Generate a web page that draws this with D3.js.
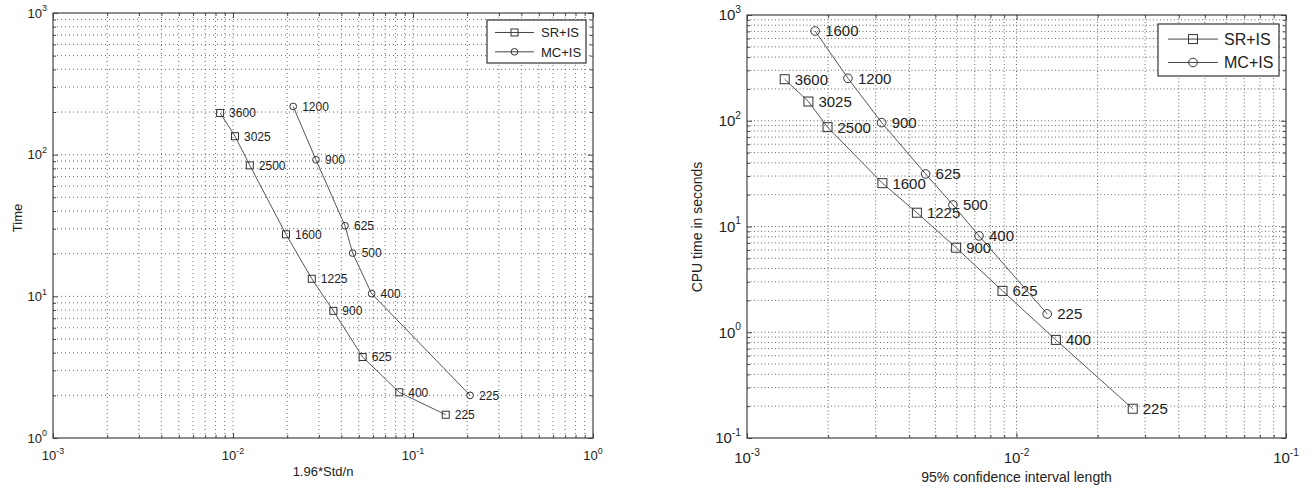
<!DOCTYPE html>
<html>
<head>
<meta charset="utf-8">
<script src="https://cdn.jsdelivr.net/npm/d3@7"></script>
<style>
body { margin: 0; background: #fff; }
text { font-family: 'Liberation Sans', Arial, sans-serif; fill: #222; }
</style>
</head>
<body>
<svg id="chart" width="1312" height="495"></svg>
<script>

// left panel data (1.96*Std/n vs Time)
var leftSrLabels = ['3600', '3025', '2500', '1600', '1225', '900', '625', '400', '225'];
var leftSrStd = [0.00848, 0.01026, 0.0124, 0.0197, 0.0274, 0.0361, 0.0525, 0.0839, 0.152];
var leftSrTime = [197, 135, 84, 27.4, 13.3, 7.9, 3.73, 2.1, 1.46];

var leftMcLabels = ['1200', '900', '625', '500', '400', '225'];
var leftMcStd = [0.0216, 0.0289, 0.0419, 0.0462, 0.0589, 0.2075];
var leftMcTime = [219, 92, 31.5, 20.2, 10.45, 2.0];

// right panel data (95% CI length vs CPU time)
var rightSrLabels = ['3600', '3025', '2500', '1600', '1225', '900', '625', '400', '225'];
var rightSrLen = [0.00138, 0.00169, 0.00199, 0.00318, 0.00427, 0.00597, 0.00887, 0.0140, 0.0270];
var rightSrCpu = [247, 152, 87, 25.7, 13.5, 6.3, 2.46, 0.847, 0.189];

var rightMcLabels = ['1600', '1200', '900', '625', '500', '400', '225'];
var rightMcLen = [0.00179, 0.00237, 0.00316, 0.0046, 0.00581, 0.00726, 0.0130];
var rightMcCpu = [706, 252, 96, 31.4, 16.0, 8.15, 1.49];

var legendNames = ['SR+IS', 'MC+IS'];

var svg = d3.select('#chart');

function drawPanel(p) {
	var x = d3.scaleLog().domain(p.xDomain).range([p.left, p.right]);
	var y = d3.scaleLog().domain(p.yDomain).range([p.bottom, p.top]);

	var g = svg.append('g');

	// decade and minor tick values
	function logTicks(dom) {
		var major = [], minor = [];
		var a = Math.round(Math.log10(dom[0])), b = Math.round(Math.log10(dom[1]));
		for (var e = a; e <= b; e++) {
			major.push(Math.pow(10, e));
			if (e < b) for (var k = 2; k <= 9; k++) minor.push(k * Math.pow(10, e));
		}
		return { major: major, minor: minor };
	}
	var xt = logTicks(p.xDomain), yt = logTicks(p.yDomain);

	// grid
	g.selectAll('.gx').data(xt.major.slice(1, -1).concat(xt.minor)).enter().append('line')
		.attr('x1', function(d) { return x(d); }).attr('x2', function(d) { return x(d); })
		.attr('y1', p.top).attr('y2', p.bottom)
		.attr('stroke', '#444').attr('stroke-width', 0.8).attr('stroke-dasharray', p.dash);
	g.selectAll('.gy').data(yt.major.slice(1, -1).concat(yt.minor)).enter().append('line')
		.attr('y1', function(d) { return y(d); }).attr('y2', function(d) { return y(d); })
		.attr('x1', p.left).attr('x2', p.right)
		.attr('stroke', '#444').attr('stroke-width', 0.8).attr('stroke-dasharray', p.dash);

	// ticks on all four sides, pointing inward
	function ticks(axis, scale, vals, len, tr) {
		var a = axis(scale).tickValues(vals).tickSizeInner(-len).tickSizeOuter(0).tickFormat('');
		var gg = g.append('g').attr('transform', tr).call(a);
		gg.select('.domain').remove();
		gg.selectAll('line').attr('stroke', '#444');
	}
	ticks(d3.axisBottom, x, xt.major, 5, 'translate(0,' + p.bottom + ')');
	ticks(d3.axisBottom, x, xt.minor, 3, 'translate(0,' + p.bottom + ')');
	ticks(d3.axisTop, x, xt.major, 5, 'translate(0,' + p.top + ')');
	ticks(d3.axisTop, x, xt.minor, 3, 'translate(0,' + p.top + ')');
	ticks(d3.axisLeft, y, yt.major, 5, 'translate(' + p.left + ',0)');
	ticks(d3.axisLeft, y, yt.minor, 3, 'translate(' + p.left + ',0)');
	ticks(d3.axisRight, y, yt.major, 5, 'translate(' + p.right + ',0)');
	ticks(d3.axisRight, y, yt.minor, 3, 'translate(' + p.right + ',0)');

	g.append('rect').attr('x', p.left).attr('y', p.top)
		.attr('width', p.right - p.left).attr('height', p.bottom - p.top)
		.attr('fill', 'none').attr('stroke', '#444').attr('stroke-width', 1.2);

	// tick labels 10^n
	function powLabel(sel, v) {
		sel.append('tspan').text('10');
		sel.append('tspan').attr('dy', -p.tickFont * 0.5).attr('font-size', p.tickFont * 0.68)
			.text(String(Math.round(Math.log10(v))));
	}
	xt.major.forEach(function(v) {
		var t = g.append('text').attr('x', x(v)).attr('y', p.bottom + p.xLabOff)
			.attr('text-anchor', 'middle').attr('font-size', p.tickFont).attr('fill', '#333');
		powLabel(t, v);
	});
	yt.major.forEach(function(v) {
		var t = g.append('text').attr('x', p.left - 6).attr('y', y(v) + p.tickFont * 0.36)
			.attr('text-anchor', 'end').attr('font-size', p.tickFont).attr('fill', '#333');
		powLabel(t, v);
	});

	// axis titles
	g.append('text').attr('x', (p.left + p.right) / 2).attr('y', p.xTitleY)
		.attr('text-anchor', 'middle').attr('font-size', p.titleFont).attr('fill', '#333').text(p.xTitle);
	g.append('text').attr('transform', 'translate(' + p.yTitleX + ',' + p.yTitleY + ') rotate(-90)')
		.attr('text-anchor', 'middle').attr('font-size', p.titleFont).attr('fill', '#333').text(p.yTitle);

	// series
	var line = d3.line().x(function(d) { return x(d.x); }).y(function(d) { return y(d.y); });
	p.series.forEach(function(s) {
		var pts = s.xs.map(function(v, i) { return { x: v, y: s.ys[i], n: s.labels[i] }; });
		g.append('path').datum(pts).attr('d', line)
			.attr('fill', 'none').attr('stroke', '#555').attr('stroke-width', 1);
		pts.forEach(function(d) {
			drawMarker(g, s.marker, x(d.x), y(d.y), p.markerSize);
			g.append('text').attr('x', x(d.x) + p.labelDx).attr('y', y(d.y) + p.labelFont * 0.36)
				.attr('font-size', p.labelFont).attr('fill', '#333').text(d.n);
		});
	});

	// legend
	var lg = p.legend;
	g.append('rect').attr('x', lg.x).attr('y', lg.y).attr('width', lg.w).attr('height', lg.h)
		.attr('fill', '#fff').attr('stroke', '#333').attr('stroke-width', 1.2);
	p.series.forEach(function(s, i) {
		var ly = lg.y + lg.h * (i === 0 ? 0.29 : 0.74);
		g.append('line').attr('x1', lg.x + lg.l1).attr('x2', lg.x + lg.l2).attr('y1', ly).attr('y2', ly)
			.attr('stroke', '#444').attr('stroke-width', 1);
		drawMarker(g, s.marker, lg.x + (lg.l1 + lg.l2) / 2, ly, p.markerSize);
		g.append('text').attr('x', lg.x + lg.tx).attr('y', ly + lg.font * 0.36)
			.attr('font-size', lg.font).attr('fill', '#333').text(legendNames[i]);
	});
}

function drawMarker(g, type, cx, cy, size) {
	if (type === 'square') {
		g.append('rect').attr('x', cx - size / 2).attr('y', cy - size / 2)
			.attr('width', size).attr('height', size)
			.attr('fill', 'none').attr('stroke', '#333').attr('stroke-width', 1);
	} else {
		g.append('circle').attr('cx', cx).attr('cy', cy).attr('r', size * 0.48)
			.attr('fill', 'none').attr('stroke', '#333').attr('stroke-width', 1);
	}
}

drawPanel({
	left: 53, right: 593, top: 13, bottom: 438,
	xDomain: [1e-3, 1], yDomain: [1, 1e3],
	dash: '1,3', tickFont: 13, xLabOff: 22, titleFont: 13, labelFont: 12, labelDx: 9, markerSize: 7,
	xTitle: '1.96*Std/n', xTitleY: 476, yTitle: 'Time', yTitleX: 22, yTitleY: 218,
	series: [
		{ xs: leftSrStd, ys: leftSrTime, labels: leftSrLabels, marker: 'square' },
		{ xs: leftMcStd, ys: leftMcTime, labels: leftMcLabels, marker: 'circle' }
	],
	legend: { x: 487, y: 20, w: 99, h: 43, l1: 8, l2: 47, tx: 54, font: 13 }
});

drawPanel({
	left: 747, right: 1286, top: 15, bottom: 438,
	xDomain: [1e-3, 1e-1], yDomain: [1e-1, 1e3],
	dash: '1,2.5', tickFont: 15, xLabOff: 25, titleFont: 14, labelFont: 15, labelDx: 10, markerSize: 9,
	xTitle: '95% confidence interval length', xTitleY: 482, yTitle: 'CPU time in seconds', yTitleX: 702, yTitleY: 227,
	series: [
		{ xs: rightSrLen, ys: rightSrCpu, labels: rightSrLabels, marker: 'square' },
		{ xs: rightMcLen, ys: rightMcCpu, labels: rightMcLabels, marker: 'circle' }
	],
	legend: { x: 1158, y: 24, w: 121, h: 52, l1: 10, l2: 60, tx: 66, font: 16 }
});

</script>
</body>
</html>
